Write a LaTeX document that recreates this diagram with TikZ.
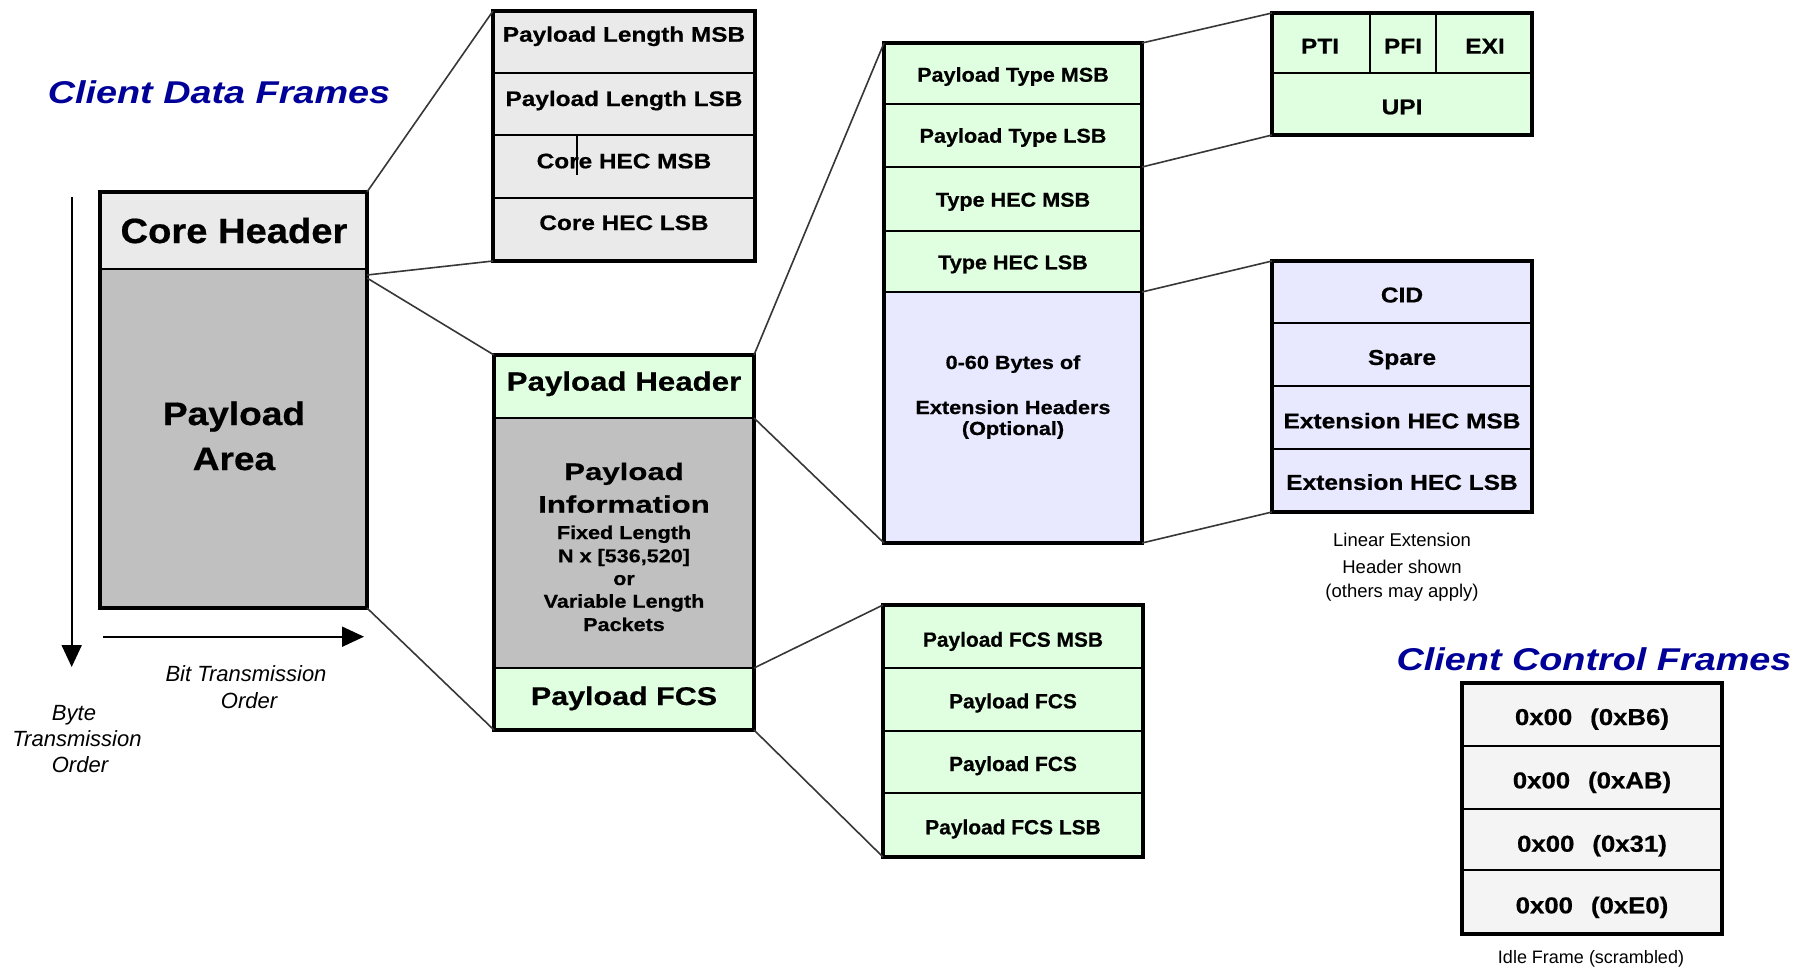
\documentclass[tikz,border=0pt]{standalone}
\usepackage{fontspec}
\setmainfont{Liberation Sans}
\newfontfamily\titlefont[FakeStretch=1.2]{Liberation Sans}
\usetikzlibrary{arrows.meta}
\definecolor{hdrgray}{RGB}{234,234,234}
\definecolor{areagray}{RGB}{192,192,192}
\definecolor{lgreen}{RGB}{224,255,224}
\definecolor{lav}{RGB}{232,232,255}
\definecolor{ctlgray}{RGB}{244,244,244}
\definecolor{titleblue}{RGB}{0,0,153}
\definecolor{conncol}{RGB}{55,55,55}
\newcommand{\bt}[3]{{\fontsize{#1}{#1}\selectfont\bfseries\addfontfeatures{FakeStretch=#2,FakeBold=0.6}#3}}
\newcommand{\rt}[2]{{\fontsize{#1}{#1}\selectfont #2}}
\newcommand{\itt}[2]{{\fontsize{#1}{#1}\selectfont\itshape #2}}
\newcommand{\ttl}[1]{{\titlefont\fontsize{31.5}{31.5}\selectfont\bfseries\itshape\color{titleblue}#1}}
\tikzset{
  cell/.style={draw=black, line width=2pt, anchor=north west, inner sep=0pt, outer sep=0pt},
  frame/.style={draw=black, line width=3.5pt},
  lbl/.style={anchor=base, inner sep=0pt, outer sep=0pt},
  conn/.style={draw=conncol, line width=1.6pt},
  order/.style={line width=2pt, -{Triangle[length=22pt,width=20pt]}}
}
\begin{document}
\begin{tikzpicture}[x=1pt,y=-1pt]
\useasboundingbox[fill=white] (0,0) rectangle (1807,969);

% ---------- titles ----------
\node[lbl] (tdata) at (219,103) {\ttl{Client Data Frames}};
\node[lbl] (tctrl) at (1594,670) {\ttl{Client Control Frames}};

% ---------- core frame ----------
\node[cell, fill=hdrgray, minimum width=267, minimum height=77] (coreh) at (100,192) {};
\node[cell, fill=areagray, minimum width=267, minimum height=339] (corea) at (100,269) {};
\draw[frame, line width=4.5pt] (coreh.north west) rectangle (corea.south east);
\node[lbl] (tcoreh) at (234,243) {\bt{35}{1.09}{Core Header}};
\node[lbl] (tpa1) at (234,425) {\bt{32.5}{1.14}{Payload}};
\node[lbl] (tpa2) at (234,470) {\bt{32.5}{1.14}{Area}};

% ---------- order arrows ----------
\coordinate (vs) at (71.7,197);
\coordinate (ve) at (71.7,667);
\coordinate (hs) at (103,636.7);
\coordinate (he) at (364,636.7);
\draw[order] (vs) -- (ve);
\draw[order] (hs) -- (he);
\node[lbl] (tbit1) at (246,681.7) {\itt{22}{Bit Transmission}};
\node[lbl] (tbit2) at (249,708.3) {\itt{22}{Order}};
\node[lbl] (tbyte1) at (74,720) {\itt{22}{Byte}};
\node[lbl] (tbyte2) at (77,746) {\itt{22}{Transmission}};
\node[lbl] (tbyte3) at (80,772.5) {\itt{22}{Order}};

% ---------- core header detail ----------
\node[cell, fill=hdrgray, minimum width=262, minimum height=62] (tl1) at (493,11) {};
\node[cell, fill=hdrgray, minimum width=262, minimum height=62] (tl2) at (493,73) {};
\node[cell, fill=hdrgray, minimum width=262, minimum height=63] (tl3) at (493,135) {};
\node[cell, fill=hdrgray, minimum width=262, minimum height=63] (tl4) at (493,198) {};
\draw[frame] (tl1.north west) rectangle (tl4.south east);
\node[lbl] (ttl1) at (624,41.7) {\bt{21}{1.16}{Payload Length MSB}};
\node[lbl] (ttl2) at (624,106) {\bt{21}{1.16}{Payload Length LSB}};
\node[lbl] (ttl3) at (624,168.3) {\bt{21}{1.16}{Core HEC MSB}};
\node[lbl] (ttl4) at (624,230) {\bt{21}{1.16}{Core HEC LSB}};
\draw[line width=1.5pt] (577,135) -- (577,175);

% ---------- payload area detail ----------
\node[cell, fill=lgreen, minimum width=260, minimum height=63] (phdr) at (494,355) {};
\node[cell, fill=areagray, minimum width=260, minimum height=250] (pinfo) at (494,418) {};
\node[cell, fill=lgreen, minimum width=260, minimum height=62] (pfcs) at (494,668) {};
\draw[frame] (phdr.north west) rectangle (pfcs.south east);
\node[lbl] (tphdr) at (624,390.7) {\bt{26.5}{1.18}{Payload Header}};
\node[lbl] (tpi1) at (624,480) {\bt{24}{1.3}{Payload}};
\node[lbl] (tpi2) at (624,512.7) {\bt{24}{1.3}{Information}};
\node[lbl] (tpi3) at (624,539) {\bt{18.6}{1.16}{Fixed Length}};
\node[lbl] (tpi4) at (624,562.3) {\bt{18.6}{1.16}{N x [536,520]}};
\node[lbl] (tpi5) at (624,585) {\bt{18.6}{1.16}{or}};
\node[lbl] (tpi6) at (624,607.7) {\bt{18.6}{1.16}{Variable Length}};
\node[lbl] (tpi7) at (624,631) {\bt{18.6}{1.16}{Packets}};
\node[lbl] (tpfcs) at (624,705) {\bt{25.6}{1.19}{Payload FCS}};

% ---------- payload header detail ----------
\node[cell, fill=lgreen, minimum width=258, minimum height=61] (pt1) at (884,43) {};
\node[cell, fill=lgreen, minimum width=258, minimum height=63] (pt2) at (884,104) {};
\node[cell, fill=lgreen, minimum width=258, minimum height=64] (pt3) at (884,167) {};
\node[cell, fill=lgreen, minimum width=258, minimum height=61] (pt4) at (884,231) {};
\node[cell, fill=lav, minimum width=258, minimum height=251] (pt5) at (884,292) {};
\draw[frame] (pt1.north west) rectangle (pt5.south east);
\node[lbl] (tpt1) at (1013,81.7) {\bt{20}{1.08}{Payload Type MSB}};
\node[lbl] (tpt2) at (1013,142.7) {\bt{20}{1.08}{Payload Type LSB}};
\node[lbl] (tpt3) at (1013,206.7) {\bt{20}{1.08}{Type HEC MSB}};
\node[lbl] (tpt4) at (1013,269.3) {\bt{20}{1.08}{Type HEC LSB}};
\node[lbl] (tpt5) at (1013,369) {\bt{19}{1.14}{0-60 Bytes of}};
\node[lbl] (tpt6) at (1013,414) {\bt{19}{1.14}{Extension Headers}};
\node[lbl] (tpt7) at (1013,435) {\bt{19}{1.14}{(Optional)}};

% ---------- payload type detail ----------
\node[cell, fill=lgreen, minimum width=98, minimum height=60] (pti) at (1272,13) {};
\node[cell, fill=lgreen, minimum width=66, minimum height=60] (pfi) at (1370,13) {};
\node[cell, fill=lgreen, minimum width=96, minimum height=60] (exi) at (1436,13) {};
\node[cell, fill=lgreen, minimum width=260, minimum height=62] (upi) at (1272,73) {};
\draw[frame] (pti.north west) rectangle (upi.south east);
\node[lbl] (tpti) at (1320,53.6) {\bt{21.5}{1.14}{PTI}};
\node[lbl] (tpfi) at (1403,53.6) {\bt{21.5}{1.14}{PFI}};
\node[lbl] (texi) at (1485,53.6) {\bt{21.5}{1.14}{EXI}};
\node[lbl] (tupi) at (1402,114.3) {\bt{21.5}{1.14}{UPI}};

% ---------- extension header detail ----------
\node[cell, fill=lav, minimum width=260, minimum height=62] (c1) at (1272,261) {};
\node[cell, fill=lav, minimum width=260, minimum height=63] (c2) at (1272,323) {};
\node[cell, fill=lav, minimum width=260, minimum height=63] (c3) at (1272,386) {};
\node[cell, fill=lav, minimum width=260, minimum height=63] (c4) at (1272,449) {};
\draw[frame] (c1.north west) rectangle (c4.south east);
\node[lbl] (tc1) at (1402,302.4) {\bt{21.5}{1.14}{CID}};
\node[lbl] (tc2) at (1402,364.9) {\bt{21.5}{1.14}{Spare}};
\node[lbl] (tc3) at (1402,428.4) {\bt{21.5}{1.14}{Extension HEC MSB}};
\node[lbl] (tc4) at (1402,489.8) {\bt{21.5}{1.14}{Extension HEC LSB}};
\node[lbl] (tlin1) at (1402,546.7) {\rt{18.5}{Linear Extension}};
\node[lbl] (tlin2) at (1402,573.3) {\rt{18.5}{Header shown}};
\node[lbl] (tlin3) at (1402,597.3) {\rt{18.5}{(others may apply)}};

% ---------- FCS detail ----------
\node[cell, fill=lgreen, minimum width=260, minimum height=63] (f1) at (883,605) {};
\node[cell, fill=lgreen, minimum width=260, minimum height=63] (f2) at (883,668) {};
\node[cell, fill=lgreen, minimum width=260, minimum height=62] (f3) at (883,731) {};
\node[cell, fill=lgreen, minimum width=260, minimum height=64] (f4) at (883,793) {};
\draw[frame] (f1.north west) rectangle (f4.south east);
\node[lbl] (tf1) at (1013,646.7) {\bt{20.5}{1.02}{Payload FCS MSB}};
\node[lbl] (tf2) at (1013,708.3) {\bt{20.5}{1.02}{Payload FCS}};
\node[lbl] (tf3) at (1013,771) {\bt{20.5}{1.02}{Payload FCS}};
\node[lbl] (tf4) at (1013,834.3) {\bt{20.5}{1.02}{Payload FCS LSB}};

% ---------- control frames ----------
\node[cell, fill=ctlgray, minimum width=260, minimum height=63] (k1) at (1462,683) {};
\node[cell, fill=ctlgray, minimum width=260, minimum height=63] (k2) at (1462,746) {};
\node[cell, fill=ctlgray, minimum width=260, minimum height=61] (k3) at (1462,809) {};
\node[cell, fill=ctlgray, minimum width=260, minimum height=64] (k4) at (1462,870) {};
\draw[frame] (k1.north west) rectangle (k4.south east);
\node[lbl] (tk1) at (1592,725) {\bt{23}{1.12}{0x00\hspace{18pt}(0xB6)}};
\node[lbl] (tk2) at (1592,788.3) {\bt{23}{1.12}{0x00\hspace{18pt}(0xAB)}};
\node[lbl] (tk3) at (1592,851.7) {\bt{23}{1.12}{0x00\hspace{18pt}(0x31)}};
\node[lbl] (tk4) at (1592,913.3) {\bt{23}{1.12}{0x00\hspace{18pt}(0xE0)}};
\node[lbl] (tidle) at (1591,963) {\rt{18}{Idle Frame (scrambled)}};

% ---------- connectors ----------
\draw[conn] (coreh.north east) -- (tl1.north west);
\draw[conn] ([yshift=-6pt]coreh.south east) -- (tl4.south west);
\draw[conn] ([yshift=-9pt]coreh.south east) -- (phdr.north west);
\draw[conn] (corea.south east) -- (pfcs.south west);
\draw[conn] (phdr.north east) -- (pt1.north west);
\draw[conn] (pinfo.north east) -- (pt5.south west);
\draw[conn] (pinfo.south east) -- (f1.north west);
\draw[conn] (pfcs.south east) -- (f4.south west);
\draw[conn] (pt1.north east) -- (pti.north west);
\draw[conn] (pt2.south east) -- (upi.south west);
\draw[conn] (pt4.south east) -- (c1.north west);
\draw[conn] (pt5.south east) -- (c4.south west);
\end{tikzpicture}
\end{document}
